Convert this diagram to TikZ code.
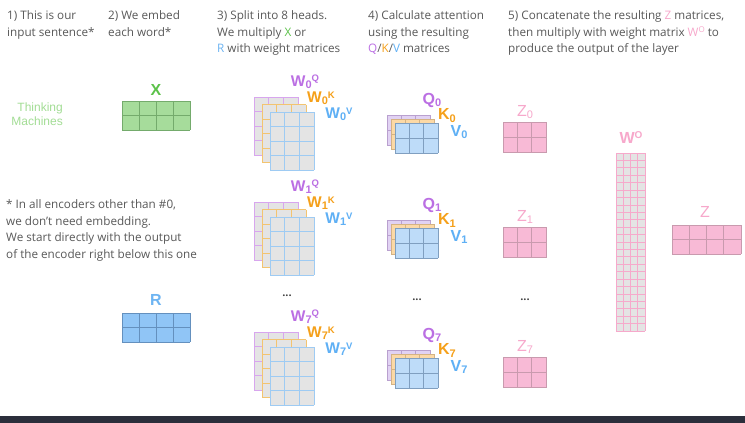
\documentclass[tikz,border=0pt]{standalone}
\usepackage{fontspec}
\setmainfont{Open Sans}
\newfontfamily\labfont{Liberation Sans}
\definecolor{txt}{HTML}{595959}
\definecolor{xg}{HTML}{5CC24A}
\definecolor{rb}{HTML}{6DB4F2}
\definecolor{pq}{HTML}{BB6FE3}
\definecolor{ok}{HTML}{F5A01A}
\definecolor{bv}{HTML}{5FB0F5}
\definecolor{pz}{HTML}{F7A8CB}
\definecolor{tm}{HTML}{A3DD95}
\definecolor{bar}{HTML}{2B2E3B}
\definecolor{wfill}{HTML}{E4E4E4}
\definecolor{wpl}{HTML}{D8A6EE}
\definecolor{wol}{HTML}{F3C470}
\definecolor{wbl}{HTML}{9ECBF3}
\definecolor{qf}{HTML}{E1D2F3}
\definecolor{ql}{HTML}{B9A0CF}
\definecolor{kf}{HTML}{FCD9A6}
\definecolor{kl}{HTML}{D5B384}
\definecolor{vf}{HTML}{BEDCF9}
\definecolor{vl}{HTML}{809FC0}
\definecolor{zf}{HTML}{F8BAD6}
\definecolor{zl}{HTML}{C99AAE}
\definecolor{gf}{HTML}{A6DC9B}
\definecolor{gl}{HTML}{74AB6C}
\definecolor{rf}{HTML}{90C5F6}
\definecolor{rl}{HTML}{6490BE}
\definecolor{wol2}{HTML}{F6A9CB}
% x, y, cols, rows, cellw, cellh, fill, line
\newcommand\mgrid[8]{%
  \fill[#7] (#1,#2) rectangle ({#1+#3*#5},{#2+#4*#6});
  \foreach \ii in {0,...,#3} \draw[#8,line width=0.8pt] ({#1+\ii*#5},#2) -- ({#1+\ii*#5},{#2+#4*#6});
  \foreach \jj in {0,...,#4} \draw[#8,line width=0.8pt] (#1,{#2+\jj*#6}) -- ({#1+#3*#5},{#2+\jj*#6});
}
\tikzset{
  hdr/.style={anchor=base west, inner sep=0pt, text=txt, font=\fontsize{11.7}{14}\selectfont},
  lab/.style={anchor=center, inner sep=0pt, font=\labfont\bfseries\fontsize{16}{16}\selectfont},
  wlab/.style={anchor=center, inner sep=0pt, font=\labfont\bfseries\fontsize{15.5}{15.5}\selectfont},
  zlab/.style={anchor=center, inner sep=0pt, text=pz, font=\labfont\fontsize{16}{16}\selectfont},
  dots/.style={anchor=center, inner sep=0pt, text=black!75, font=\bfseries\fontsize{11}{11}\selectfont},
}
\newcommand\subsup[3]{#1\raisebox{-2pt}{\fontsize{11}{11}\selectfont #2}\raisebox{4.5pt}{\fontsize{9.5}{9.5}\selectfont\smash{#3}}}
\newcommand\subonly[2]{#1\raisebox{-2.5pt}{\fontsize{11}{11}\selectfont #2}}
\begin{document}
\begin{tikzpicture}[x=1pt,y=-1pt]
\useasboundingbox (0,0) rectangle (745,423);
\fill[white] (0,0) rectangle (745,423);
\fill[bar] (0,415.5) rectangle (745,423);
% headers
\node[hdr] (h1a) at (7,19.5) {1) This is our};
\node[hdr] (h1b) at (7,36) {input sentence*};
\node[hdr] (h2a) at (108,19.5) {2) We embed};
\node[hdr] (h2b) at (108,36) {each word*};
\node[hdr] (h3a) at (217,19.5) {3) Split into 8 heads.};
\node[hdr] (h3b) at (217,36) {We multiply {\color{xg}X} or};
\node[hdr] (h3c) at (217,52.5) {{\color{rb}R} with weight matrices};
\node[hdr] (h4a) at (368,19.5) {4) Calculate attention};
\node[hdr] (h4b) at (368,36) {using the resulting};
\node[hdr] (h4c) at (368,52.5) {{\color{pq}Q}/{\color{ok}K}/{\color{bv}V} matrices};
\node[hdr] (h5a) at (508,19.5) {5) Concatenate the resulting {\color{pz}Z} matrices,};
\node[hdr] (h5b) at (508,36) {then multiply with weight matrix {\color{pz}W\raisebox{4pt}{\fontsize{8}{8}\selectfont O}} to};
\node[hdr] (h5c) at (508,52.5) {produce the output of the layer};
% footnote
\node[hdr] (f1) at (6,208.5) {* In all encoders other than \#0,};
\node[hdr] (f2) at (6,225) {we don’t need embedding.};
\node[hdr] (f3) at (6,241.5) {We start directly with the output};
\node[hdr] (f4) at (6,258) {of the encoder right below this one};
% input sentence
\node[anchor=base east, inner sep=0pt, text=tm, font=\labfont\fontsize{12}{12}\selectfont] (tk) at (63,111) {Thinking};
\node[anchor=base east, inner sep=0pt, text=tm, font=\labfont\fontsize{12}{12}\selectfont] (mc) at (63,125.5) {Machines};
% X and R
\node[lab, text=xg] (xl) at (156,90) {X};
\mgrid{122}{101}{4}{2}{17}{14.5}{gf}{gl}
\node[lab, text=rb] (rlab) at (156,300) {R};
\mgrid{122}{313}{4}{2}{17}{14.5}{rf}{rl}
% heads
\foreach \d/\n in {0/0,105/1,235/7}{
  \mgrid{254}{97+\d}{3}{4}{14.7}{14.5}{wfill}{wpl}
  \mgrid{262}{104.5+\d}{3}{4}{14.7}{14.5}{wfill}{wol}
  \mgrid{270}{112+\d}{3}{4}{14.7}{14.5}{wfill}{wbl}
  \node[wlab, text=pq] (wq\n) at (305,82+\d) {\subsup{W}{\n}{Q}};
  \node[wlab, text=ok] (wk\n) at (321,98.5+\d) {\subsup{W}{\n}{K}};
  \node[wlab, text=bv] (wv\n) at (339,114.5+\d) {\subsup{W}{\n}{V}};
  \mgrid{387}{115+\d}{3}{2}{14.3}{15}{qf}{ql}
  \mgrid{391}{119+\d}{3}{2}{14.3}{15}{kf}{kl}
  \mgrid{395}{123+\d}{3}{2}{14.3}{15}{vf}{vl}
  \node[lab, text=pq] (q\n) at (432,100+\d) {\subonly{Q}{\n}};
  \node[lab, text=ok] (k\n) at (447,115.5+\d) {\subonly{K}{\n}};
  \node[lab, text=bv] (v\n) at (459,132+\d) {\subonly{V}{\n}};
  \mgrid{503}{122+\d}{3}{2}{14.3}{15.3}{zf}{zl}
  \node[zlab] (z\n) at (525,112+\d) {\subonly{Z}{\n}};
}
\node[dots] (d1) at (287,296) {...};
\node[dots] (d2) at (417,300) {...};
\node[dots] (d3) at (525,300) {...};
% W^O
\node[lab, text=pz] (wo) at (631,138) {W\raisebox{5pt}{\fontsize{10}{10}\selectfont O}};
\mgrid{616}{153}{4}{24}{7.25}{7.42}{wfill}{wol2}
% Z
\node[zlab] (zz) at (705,212) {Z};
\mgrid{672}{225}{4}{2}{17.25}{14.5}{zf}{zl}
\end{tikzpicture}
\end{document}
